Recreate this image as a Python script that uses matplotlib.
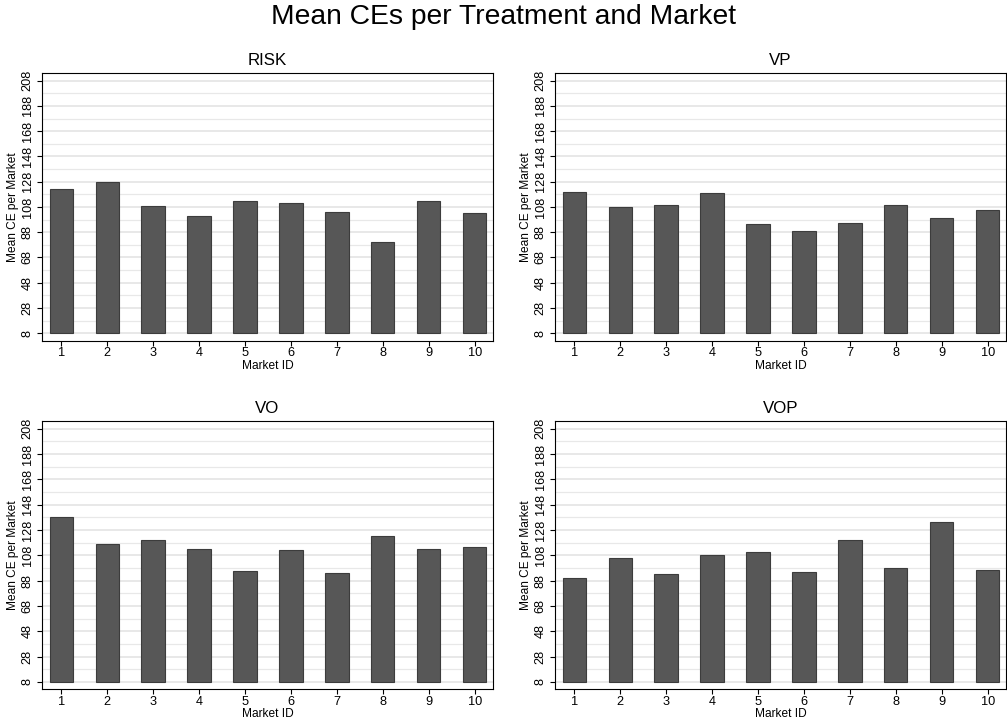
import matplotlib
matplotlib.use("Agg")
import matplotlib.pyplot as plt
import numpy as np

plt.rcParams['font.family'] = ['Liberation Sans', 'DejaVu Sans']

market_ids = [1, 2, 3, 4, 5, 6, 7, 8, 9, 10]
treatments = ["RISK", "VP", "VO", "VOP"]

# mean CE per market
risk_ce = [122.0, 127.8, 109.0, 100.9, 112.5, 111.4, 104.3, 80.6, 112.5, 103.0]
vp_ce = [119.6, 108.0, 109.3, 118.8, 94.5, 88.7, 95.6, 109.3, 99.0, 105.6]
vo_ce = [138.3, 116.7, 119.9, 113.0, 95.6, 112.5, 93.8, 123.6, 113.0, 114.9]
vop_ce = [90.1, 105.9, 93.2, 108.0, 110.9, 94.5, 120.1, 98.0, 133.9, 96.7]

y_ticks = list(range(8, 209, 20))
y_minor = list(range(18, 199, 20))
bar_base = 8

W, H = 1007, 726
fig = plt.figure(figsize=(W / 100, H / 100), dpi=100)

# panel boxes in pixels: left, top, right, bottom
boxes = [(42, 72.7, 493, 340.7), (555, 72.7, 1006, 340.7),
         (42, 420.7, 493, 689.3), (555, 420.7, 1006, 689.3)]
all_ce = [risk_ce, vp_ce, vo_ce, vop_ce]

for name, ce, (l, t, r, b) in zip(treatments, all_ce, boxes):
    ax = fig.add_axes([l / W, 1 - b / H, (r - l) / W, (b - t) / H])
    heights = np.array(ce) - bar_base
    ax.bar(market_ids, heights, bottom=bar_base, width=0.51,
           color='#575757', edgecolor='#3c3c3c', linewidth=0.8, zorder=3)
    ax.set_xlim(0.58, 10.4)
    ax.set_ylim(2.1, 214.3)
    ax.set_xticks(market_ids)
    ax.set_yticks(y_ticks)
    ax.set_yticks(y_minor, minor=True)
    ax.yaxis.grid(True, which='major', color='#e2e2e2', linewidth=1.1, zorder=0)
    ax.yaxis.grid(True, which='minor', color='#e8e8e8', linewidth=0.9, zorder=0)
    ax.set_axisbelow(True)
    ax.tick_params(axis='y', which='minor', length=0)
    ax.tick_params(axis='both', which='major', length=3.6, width=0.8,
                   labelsize=9.2, color='black')
    ax.tick_params(axis='x', pad=1.2)
    ax.tick_params(axis='y', pad=2.5)
    for lbl in ax.get_yticklabels():
        lbl.set_rotation(90)
        lbl.set_va('center')
    for sp in ax.spines.values():
        sp.set_linewidth(0.8)
        sp.set_color('black')
    cx = (l + r) / 2
    fig.text(cx / W, 1 - (t - 12) / H, name, ha='center', va='center', fontsize=12.2)
    fig.text(cx / W, 1 - (b + 25) / H, "Market ID", ha='center', va='center', fontsize=8.6)
    fig.text((l - 29) / W, 1 - ((t + b) / 2) / H, "Mean CE per Market",
             ha='center', va='center', rotation=90, fontsize=8.6)

fig.text(0.5, 1 - 17 / H, "Mean CEs per Treatment and Market",
         ha='center', va='center', fontsize=20.3)

fig.savefig("out.png", dpi=100, facecolor='white')
